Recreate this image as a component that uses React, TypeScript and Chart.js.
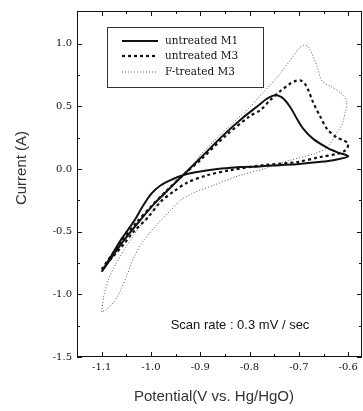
import React, { useEffect, useRef } from "react";
import { Chart, registerables } from "chart.js";

Chart.register(...registerables);

// ---- data ----
const seriesLabels = ["untreated M1", "untreated M3", "F-treated M3"];

const m1X = [-1.1, -1.08, -1.06, -1.035, -1.017, -1.0, -0.98, -0.955, -0.935, -0.92, -0.9, -0.873, -0.85, -0.82, -0.78, -0.74, -0.7, -0.66, -0.63, -0.6,
  -0.623, -0.643, -0.671, -0.691, -0.704, -0.717, -0.731, -0.742, -0.752, -0.765, -0.784, -0.813, -0.853, -0.894, -0.935, -0.966, -0.994, -1.02, -1.055, -1.1];
const m1Y = [-0.82, -0.69, -0.56, -0.42, -0.3, -0.2, -0.13, -0.08, -0.05, -0.035, -0.02, -0.005, 0.005, 0.015, 0.02, 0.03, 0.04, 0.055, 0.07, 0.1,
  0.134, 0.17, 0.24, 0.32, 0.4, 0.49, 0.56, 0.585, 0.585, 0.56, 0.5, 0.41, 0.27, 0.11, -0.05, -0.17, -0.28, -0.4, -0.57, -0.82];

const m3X = [-1.1, -1.075, -1.055, -1.035, -1.007, -0.98, -0.954, -0.927, -0.886, -0.839, -0.772, -0.704, -0.657, -0.623, -0.605, -0.6,
  -0.61, -0.623, -0.643, -0.657, -0.671, -0.68, -0.688, -0.696, -0.705, -0.718, -0.738, -0.758, -0.778, -0.8, -0.85, -0.9, -0.935, -0.97, -1.0, -1.03, -1.06, -1.1];
const m3Y = [-0.8, -0.69, -0.6, -0.5, -0.39, -0.26, -0.18, -0.11, -0.05, -0.01, 0.03, 0.055, 0.095, 0.12, 0.15, 0.2,
  0.23, 0.25, 0.32, 0.42, 0.53, 0.62, 0.68, 0.705, 0.705, 0.68, 0.62, 0.55, 0.47, 0.42, 0.26, 0.07, -0.05, -0.18, -0.3, -0.43, -0.58, -0.8];

const fX = [-1.1, -1.095, -1.085, -1.07, -1.05, -1.03, -1.0, -0.97, -0.945, -0.92, -0.9, -0.86, -0.825, -0.8, -0.778, -0.758, -0.738, -0.717, -0.702, -0.692, -0.684,
  -0.677, -0.663, -0.653, -0.636, -0.616, -0.603, -0.606, -0.613, -0.626, -0.643,
  -0.67, -0.717, -0.772, -0.819, -0.873, -0.913, -0.94, -0.96, -0.987, -1.015, -1.035, -1.048, -1.062, -1.075, -1.09, -1.1];
const fY = [-1.14, -1.0, -0.87, -0.75, -0.62, -0.5, -0.35, -0.2, -0.09, 0.01, 0.11, 0.27, 0.4, 0.49, 0.585, 0.67, 0.76, 0.87, 0.95, 0.985, 0.985,
  0.95, 0.82, 0.7, 0.66, 0.61, 0.54, 0.45, 0.35, 0.27, 0.17,
  0.12, 0.07, 0.0, -0.05, -0.13, -0.19, -0.25, -0.33, -0.44, -0.57, -0.71, -0.84, -0.97, -1.06, -1.12, -1.14];

const xTickValues = [-1.1, -1.0, -0.9, -0.8, -0.7, -0.6];
const xMinorValues = [-1.05, -0.95, -0.85, -0.75, -0.65];
const yTickValues = [-1.5, -1.0, -0.5, 0.0, 0.5, 1.0];
const yMinorValues = [-1.25, -0.75, -0.25, 0.25, 0.75];

const xTitle = "Potential(V vs. Hg/HgO)";
const yTitle = "Current (A)";
const note = "Scan rate : 0.3 mV / sec";

const styles = [
  { color: "#111", width: 2, dash: [] as number[] },
  { color: "#111", width: 2.2, dash: [3, 3] },
  { color: "#555", width: 1, dash: [1, 2] },
];

const toPts = (xs: number[], ys: number[]) => xs.map((x, i) => ({ x, y: ys[i] }));

const frameAndText = {
  id: "frameAndText",
  afterDatasetsDraw(chart: any) {
    const { ctx, chartArea: a, scales } = chart;
    const x = scales.x, y = scales.y;
    ctx.save();
    ctx.strokeStyle = "#111";
    ctx.lineWidth = 1;
    ctx.setLineDash([]);
    ctx.strokeRect(a.left + 0.5, a.top + 0.5, a.right - a.left - 1, a.bottom - a.top - 1);
    ctx.beginPath();
    const xt = (vals: number[], len: number) => {
      vals.forEach((v) => {
        const px = Math.round(x.getPixelForValue(v)) + 0.5;
        ctx.moveTo(px, a.bottom); ctx.lineTo(px, a.bottom - len);
        ctx.moveTo(px, a.top); ctx.lineTo(px, a.top + len);
      });
    };
    const yt = (vals: number[], len: number) => {
      vals.forEach((v) => {
        const py = Math.round(y.getPixelForValue(v)) + 0.5;
        ctx.moveTo(a.left, py); ctx.lineTo(a.left + len, py);
        ctx.moveTo(a.right, py); ctx.lineTo(a.right - len, py);
      });
    };
    xt(xTickValues, 5); xt(xMinorValues, 3);
    yt(yTickValues, 5); yt(yMinorValues, 3);
    ctx.stroke();

    // legend box
    const bx = 107, by = 27, bw = 156, bh = 60;
    ctx.fillStyle = "#fff";
    ctx.fillRect(bx, by, bw, bh);
    ctx.strokeStyle = "#333";
    ctx.lineWidth = 1;
    ctx.strokeRect(bx + 0.5, by + 0.5, bw, bh);
    const rows = [41, 56, 72];
    ctx.font = "10.5px 'DejaVu Serif'";
    ctx.textBaseline = "middle";
    ctx.textAlign = "left";
    seriesLabels.forEach((lab, i) => {
      const s = styles[i];
      ctx.beginPath();
      ctx.strokeStyle = s.color;
      ctx.lineWidth = s.width;
      ctx.setLineDash(s.dash);
      ctx.moveTo(122, rows[i]);
      ctx.lineTo(158, rows[i]);
      ctx.stroke();
      ctx.setLineDash([]);
      ctx.fillStyle = "#111";
      ctx.fillText(lab, 165, rows[i]);
    });

    // note
    ctx.font = "13px 'Liberation Sans'";
    ctx.textAlign = "center";
    ctx.fillStyle = "#111";
    ctx.fillText(note, 240, 325);

    // axis titles
    ctx.font = "15px 'Liberation Sans'";
    ctx.fillStyle = "#333";
    ctx.fillText(xTitle, 214, 397);
    ctx.translate(22, 168);
    ctx.rotate(-Math.PI / 2);
    ctx.fillText(yTitle, 0, 0);
    ctx.restore();
  },
};

export default function App() {
  const ref = useRef<HTMLCanvasElement | null>(null);
  useEffect(() => {
    if (!ref.current) return;
    const data = [toPts(m1X, m1Y), toPts(m3X, m3Y), toPts(fX, fY)];
    const chart = new Chart(ref.current, {
      type: "scatter",
      data: {
        datasets: data.map((d, i) => ({
          label: seriesLabels[i],
          data: d,
          showLine: true,
          borderColor: styles[i].color,
          borderWidth: styles[i].width,
          borderDash: styles[i].dash,
          pointRadius: 0,
          tension: 0.3,
          fill: false,
        })),
      },
      options: {
        responsive: false,
        animation: false,
        layout: { padding: { left: 0, top: 6, right: 1, bottom: 0 } },
        plugins: { legend: { display: false }, tooltip: { enabled: false } },
        scales: {
          x: {
            type: "linear",
            min: -1.15,
            max: -0.572,
            grid: { display: false, drawTicks: false },
            border: { display: false },
            afterFit: (s: any) => { s.height = 54; },
            afterBuildTicks: (s: any) => { s.ticks = xTickValues.map((v) => ({ value: v })); },
            ticks: {
              padding: 4,
              color: "#111",
              font: { family: "'DejaVu Serif'", size: 10 },
              callback: (v: any) => Number(v).toFixed(1),
            },
          },
          y: {
            type: "linear",
            min: -1.5,
            max: 1.26,
            grid: { display: false, drawTicks: false },
            border: { display: false },
            afterFit: (s: any) => { s.width = 77; },
            afterBuildTicks: (s: any) => { s.ticks = yTickValues.map((v) => ({ value: v })); },
            ticks: {
              padding: 5,
              color: "#111",
              font: { family: "'DejaVu Serif'", size: 10 },
              callback: (v: any) => Number(v).toFixed(1),
            },
          },
        },
      },
      plugins: [frameAndText],
    });
    return () => chart.destroy();
  }, []);
  return (
    <div style={{ position: "absolute", left: 0, top: 0, width: 363, height: 411, background: "#fff" }}>
      <canvas ref={ref} width={363} height={411} style={{ display: "block" }} />
    </div>
  );
}
